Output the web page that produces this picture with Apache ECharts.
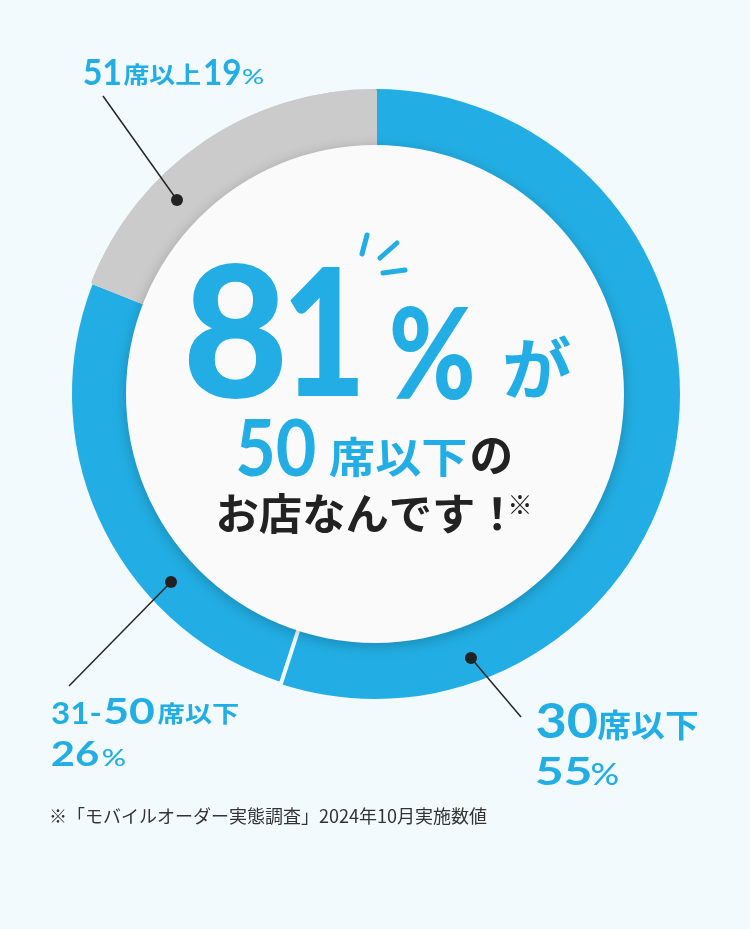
<!DOCTYPE html>
<html>
<head>
<meta charset="utf-8">
<script src="https://cdn.jsdelivr.net/npm/echarts@6/dist/echarts.min.js"></script>
<style>
html, body { margin: 0; padding: 0; background: #f3fafd; }
#main { width: 750px; height: 929px; }
</style>
</head>
<body>
<div id="main"></div>
<script>
// data
var categories = ['30席以下', '31-50席以下', '51席以上'];
var shares = [55, 26, 19];
var sliceColors = ['#22aee4', '#22aee4', '#cbcbcb'];
var headline = ['50', '席以下', 'の', 'お店なんです！', '※'];
var note = '※「モバイルオーダー実態調査」2024年10月実施数値';

var BLUE = '#22aee4', INK = '#222222', BG = '#f3fafd';
var CJK = '"Noto Sans CJK JP", sans-serif';
var NUM = 'Lato, "Noto Sans", sans-serif';
var CX = 375, CY = 394;

// size a text so its ink fills the box [left, top, right, bottom]
var ctx = document.createElement('canvas').getContext('2d');
function fit(str, weight, family, box, color) {
    ctx.font = weight + ' 100px ' + family;
    ctx.textBaseline = 'middle';
    ctx.textAlign = 'left';
    var m = ctx.measureText(str);
    var asc = m.actualBoundingBoxAscent, desc = m.actualBoundingBoxDescent;
    var bl = m.actualBoundingBoxLeft, br = m.actualBoundingBoxRight;
    var k = (box[3] - box[1]) / (asc + desc);
    var s = (box[2] - box[0]) / ((bl + br) * k);
    return {
        type: 'text', z: 20, silent: true,
        x: box[0] + s * bl * k, y: box[1] + asc * k, scaleX: s,
        style: {
            text: str, font: weight + ' ' + (100 * k).toFixed(2) + 'px ' + family, fill: color,
            textAlign: 'left', textVerticalAlign: 'middle', align: 'left', verticalAlign: 'middle'
        }
    };
}
function splitCat(c) {
    var m = c.match(/^([0-9\-]+)(.*)$/);
    return [m[1], m[2]];
}
function leader(x1, y1, x2, y2) {
    return [{
        type: 'line', z: 15, silent: true,
        shape: { x1: x1, y1: y1, x2: x2, y2: y2 },
        style: { stroke: '#262626', lineWidth: 1.5 }
    }, {
        type: 'circle', z: 16, silent: true,
        shape: { cx: x2, cy: y2, r: 6 },
        style: { fill: '#222' }
    }];
}

var c0 = splitCat(categories[0]), c1 = splitCat(categories[1]), c2 = splitCat(categories[2]);
var range1 = c1[0].split('-');
var big = String(shares[0] + shares[1]);

var elements = [{
    type: 'circle', z: 10, silent: true,
    shape: { cx: CX, cy: CY, r: 249 },
    style: { fill: '#fafafa', shadowBlur: 14, shadowOffsetY: 3, shadowColor: 'rgba(0,0,0,0.22)' }
}];

// 81%が
elements.push(fit(big.charAt(0), 900, NUM, [188, 265, 283, 400], BLUE));
elements.push(fit(big.charAt(1), 900, NUM, [289, 268, 359, 396], BLUE));
elements.push(fit('%', 900, NUM, [392, 307, 473, 400], BLUE));
elements.push(fit('が', 700, CJK, [505, 335, 570, 398], BLUE));
[[367, 235, 362, 254], [397, 243, 380, 258], [383, 273, 405, 270]].forEach(function (s) {
    elements.push({
        type: 'line', z: 20, silent: true,
        shape: { x1: s[0], y1: s[1], x2: s[2], y2: s[3] },
        style: { stroke: BLUE, lineWidth: 5, lineCap: 'round' }
    });
});
// 50席以下の / お店なんです！※
elements.push(fit(headline[0], 700, NUM, [238, 419, 315, 477], BLUE));
elements.push(fit(headline[1], 700, CJK, [330, 437, 465, 477], BLUE));
elements.push(fit(headline[2], 700, CJK, [472, 438, 510, 475], INK));
elements.push(fit(headline[3], 700, CJK, [219, 493, 501, 534], INK));
elements.push(fit(headline[4], 400, CJK, [511, 495, 529, 515], INK));

// slice labels
elements.push(fit(c2[0], 700, NUM, [84, 58, 120, 85], BLUE));
elements.push(fit(c2[1], 700, CJK, [124, 63, 200, 85], BLUE));
elements.push(fit(String(shares[2]), 700, NUM, [205, 59, 240, 85], BLUE));
elements.push(fit('%', 500, NUM, [243, 68, 263, 84], BLUE));
elements = elements.concat(leader(103, 96, 177, 200));

elements.push(fit(range1[0] + '-', 700, NUM, [52, 701, 100, 724], BLUE));
elements.push(fit(range1[1], 700, NUM, [105, 697, 154, 724], BLUE));
elements.push(fit(c1[1], 700, CJK, [158, 702, 238, 724], BLUE));
elements.push(fit(String(shares[1]), 700, NUM, [52, 741, 98, 766], BLUE));
elements.push(fit('%', 500, NUM, [103, 749, 125, 766], BLUE));
elements = elements.concat(leader(69, 686, 171, 582));

elements.push(fit(c0[0], 700, NUM, [537, 702, 597, 738], BLUE));
elements.push(fit(c0[1], 700, CJK, [598, 710, 697, 740], BLUE));
elements.push(fit(String(shares[0]), 700, NUM, [537, 757, 590, 785], BLUE));
elements.push(fit('%', 500, NUM, [592, 762, 618, 785], BLUE));
elements = elements.concat(leader(521, 717, 471, 658));

elements.push({
    type: 'text', z: 20, silent: true, x: 49, y: 816,
    style: {
        text: note, font: '400 18px ' + CJK, fill: '#333333',
        textAlign: 'left', textVerticalAlign: 'middle', align: 'left', verticalAlign: 'middle'
    }
});

var dom = document.getElementById('main');
var myChart = echarts.init(dom);
var option = {
    backgroundColor: BG,
    animation: false,
    series: [{
        type: 'pie',
        center: [CX, CY],
        radius: [230, 305],
        startAngle: 90,
        silent: true,
        label: { show: false },
        labelLine: { show: false },
        data: categories.map(function (c, i) {
            return {
                name: c, value: shares[i],
                itemStyle: { color: sliceColors[i], borderColor: BG, borderWidth: i === 1 ? 4 : 0 }
            };
        })
    }, {
        // grey slice again on top, so the light gap shows only between the blue slices
        type: 'pie',
        center: [CX, CY],
        radius: [232, 303],
        startAngle: 90,
        silent: true,
        z: 3,
        label: { show: false },
        labelLine: { show: false },
        data: categories.map(function (c, i) {
            return {
                name: c, value: shares[i],
                itemStyle: i === 2
                    ? { color: sliceColors[i], borderColor: sliceColors[i], borderWidth: 4 }
                    : { color: 'rgba(0,0,0,0)', borderWidth: 0 }
            };
        })
    }],
    graphic: { elements: elements }
};
if (option && typeof option === 'object') {
    myChart.setOption(option, true);
}
</script>
</body>
</html>
